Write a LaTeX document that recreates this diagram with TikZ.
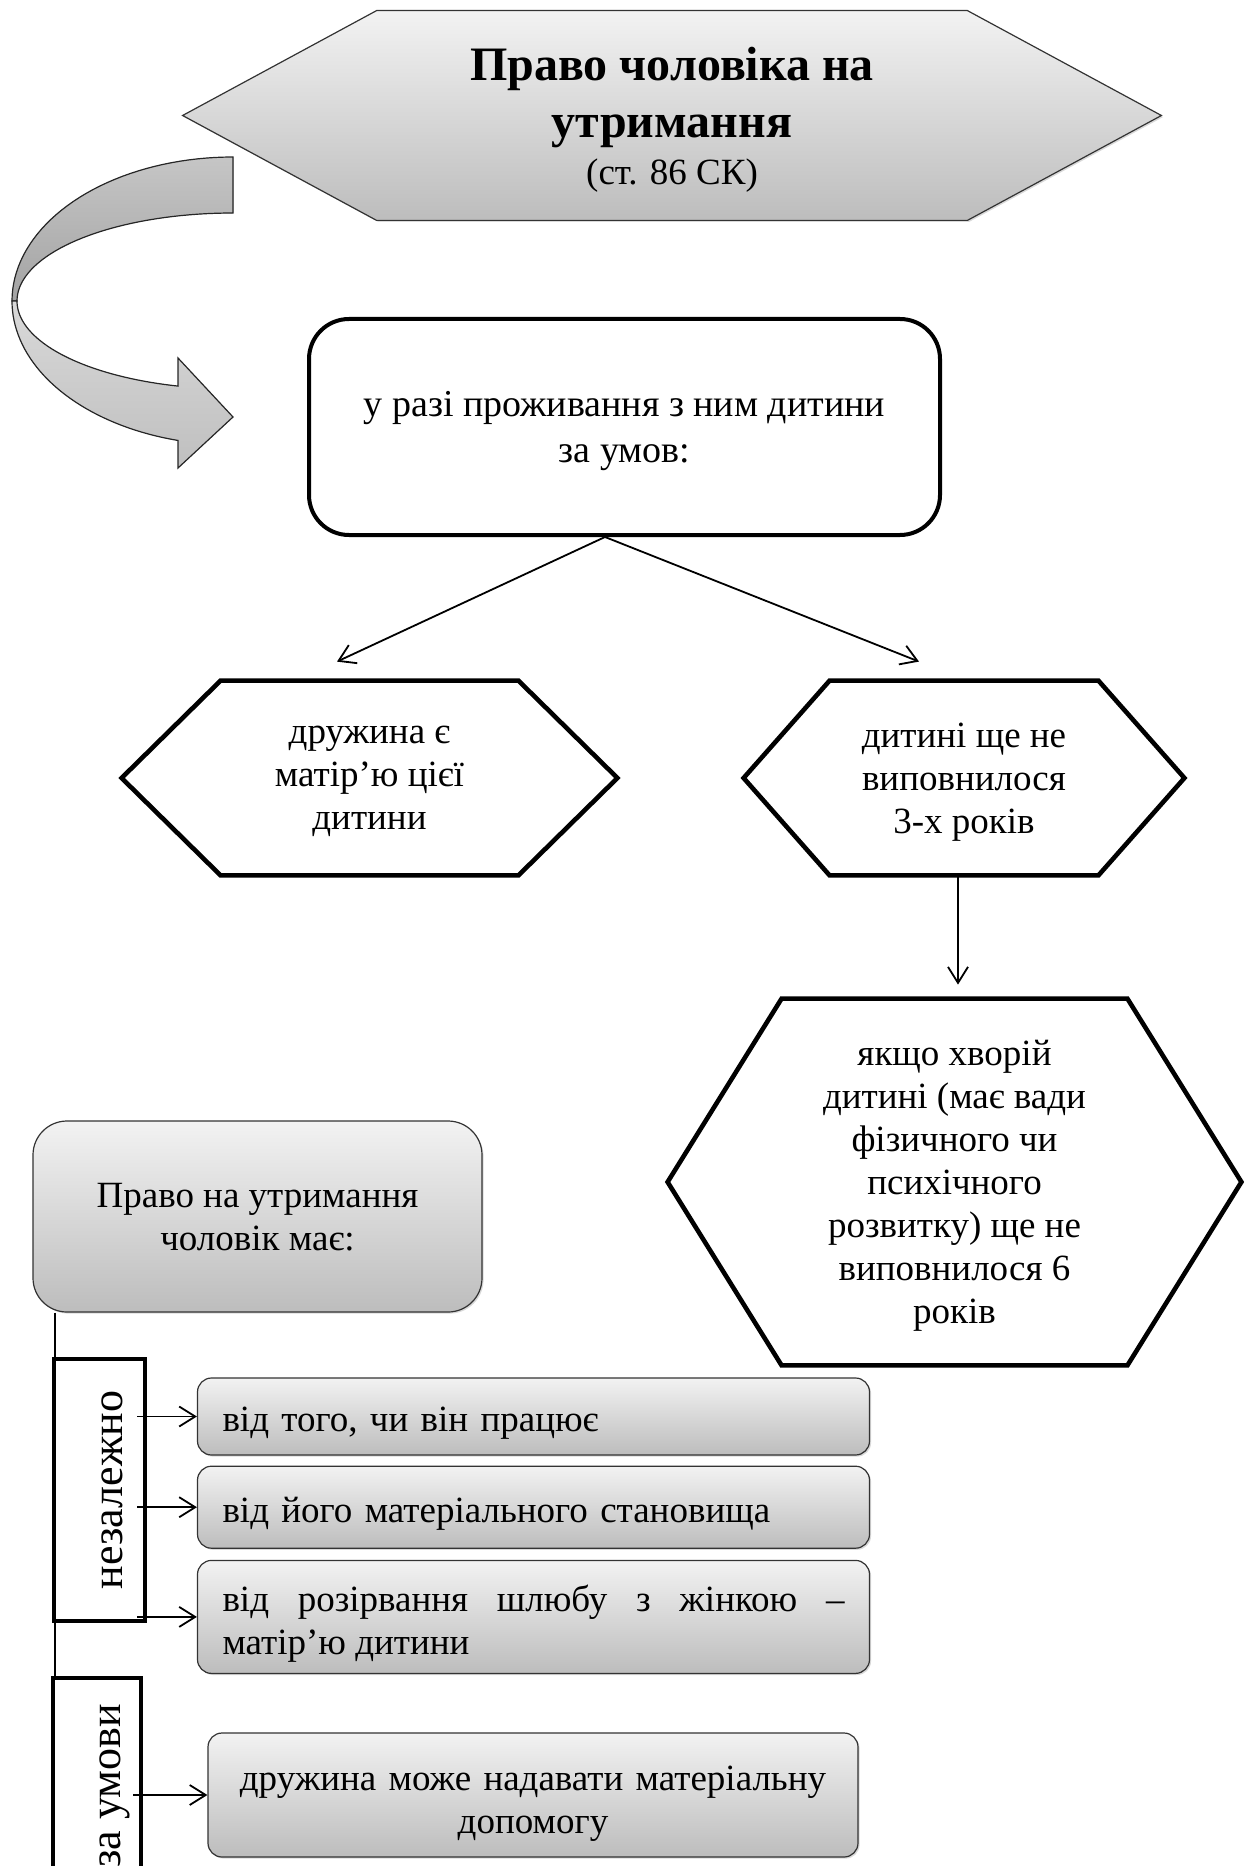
\documentclass[tikz,border=0pt]{standalone}
\usepackage{fontspec}
\setmainfont{Liberation Serif}
\usepackage{tikz}
\usetikzlibrary{arrows.meta,positioning,calc,shadows,backgrounds}

\begin{document}
\begin{tikzpicture}[x=0.5pt,y=-0.5pt,
  txt/.style={font=\fontsize{18.5}{21.5}\selectfont,align=center,inner sep=0pt,text depth=0pt,
    execute at begin node=\strut},
  grad/.style={draw=black!80,line width=0.6pt,top color=gray!10,bottom color=gray!52,
    drop shadow={opacity=0.3,shadow xshift=0.8pt,shadow yshift=-0.8pt}},
  hexline/.style={draw,line width=2.3pt,line join=miter},
  plate/.style={txt,grad,rounded corners=7pt,text width=311pt,align=left,inner xsep=12.5pt},
  sidebox/.style={draw,line width=2pt,fill=white,rotate=90,font=\fontsize{22}{26}\selectfont,
    inner sep=0pt,text height=23pt,text depth=0pt},
  arr/.style={-{Straight Barb[length=8pt,width=10pt]},line width=0.9pt},
  band/.style={draw=black!85,line width=0.6pt}
]
  \useasboundingbox (0,0) rectangle (1245,1866);
  \clip (0,0) rectangle (1245,1866);

  % curved arrow on the left
  \filldraw[band,top color=gray!45,bottom color=gray!72]
    plot[domain=270:180,samples=40] ({233+221*cos(\x)},{301+144*sin(\x)})
    -- plot[domain=180:270,samples=40] ({233+216*cos(\x)},{301+88*sin(\x)}) -- cycle;
  \filldraw[band,top color=gray!30,bottom color=gray!50]
    plot[domain=180:104.4,samples=40] ({233+221*cos(\x)},{301+144*sin(\x)})
    -- (178,468) -- (233,417) -- (178,358)
    -- plot[domain=104.75:180,samples=40] ({233+216*cos(\x)},{301+88*sin(\x)}) -- cycle;

  % title
  \node[txt,minimum width=295pt,minimum height=104.5pt,
    font=\bfseries\fontsize{24}{28.5}\selectfont] (title) at (672,115.5)
    {Право чоловіка на\\утримання\\[-5pt]{\mdseries\fontsize{18.5}{21.5}\selectfont(ст. 86 СК)}};
  \begin{scope}[on background layer]
    \path[grad] (title.north west) -- (title.north east) -- ([xshift=97pt]title.east)
      -- (title.south east) -- (title.south west) -- ([xshift=-97pt]title.west) -- cycle;
  \end{scope}

  \node[txt,draw,line width=2pt,rounded corners=20pt,minimum width=315.5pt,minimum height=108pt,
    font=\fontsize{19}{23}\selectfont] (cond) at (624.5,427)
    {у разі проживання з ним дитини\\за умов:};

  % conditions
  \node[txt,minimum width=148.5pt,minimum height=97pt] (wife) at (369.5,778) {дружина є\\матір’ю цієї\\дитини};
  \node[txt,minimum width=134pt,minimum height=97pt] (age3) at (964,778) {дитині ще не\\виповнилося\\3-х років};
  \node[txt,minimum width=172.5pt,minimum height=183pt] (age6) at (954.5,1182)
    {якщо хворій\\дитині (має вади\\фізичного чи\\психічного\\розвитку) ще не\\виповнилося 6\\років};
  \foreach \n/\d in {wife/49.5pt,age3/43pt,age6/57pt}
    \draw[hexline] (\n.north west) -- (\n.north east) -- ([xshift=\d]\n.east)
      -- (\n.south east) -- (\n.south west) -- ([xshift=-\d]\n.west) -- cycle;

  \coordinate (split) at ($(cond.south)+(-19.5,0)$);
  \coordinate (toL) at ($(wife.north)+(-32.5,-19)$);
  \coordinate (toR) at ($(age3.north)+(-45,-19)$);
  \coordinate (tip6) at ($(age6.north)+(0,-14)$);
  \draw[arr] (split) -- (toL);
  \draw[arr] (split) -- (toR);
  \draw[arr] ([xshift=-3pt]age3.south) -- ([xshift=-3pt]age3.south |- tip6);

  % lower block
  \node[txt,grad,rounded corners=17pt,minimum width=224.5pt,minimum height=95.5pt] (has) at (257.5,1216.5)
    {Право на утримання\\чоловік має:};
  \coordinate (spine) at (55,1900);
  \draw[line width=0.7pt] (has.south -| spine) -- (spine);
  \node[sidebox,minimum width=131pt,minimum height=45.5pt] (indep) at (99.5,1490) {незалежно};
  \node[sidebox,minimum width=108pt,minimum height=44pt] (cond2) at (97,1786) {за умови};

  \node[plate,minimum height=38.5pt] (w1) at (533.5,1416.5) {від того, чи він працює};
  \node[plate,minimum height=41pt,below=5pt of w1] (w2) {від його матеріального становища};
  \node[plate,minimum height=56.5pt,below=5.5pt of w2,align=justify,text depth=20pt] (w3)
    {від розірвання шлюбу з жінкою – матір’ю дитини};
  \node[plate,minimum height=62pt,text width=300pt,align=center,text depth=20pt] (help) at (533,1795)
    {дружина може надавати матеріальну\\допомогу};

  \foreach \w in {w1,w2,w3}
    \draw[arr] ($(indep.south |- \w.west)+(-10,0)$) -- (\w.west);
  \draw[arr] ($(cond2.south |- help.west)+(-10,0)$) -- (help.west);
\end{tikzpicture}
\end{document}
